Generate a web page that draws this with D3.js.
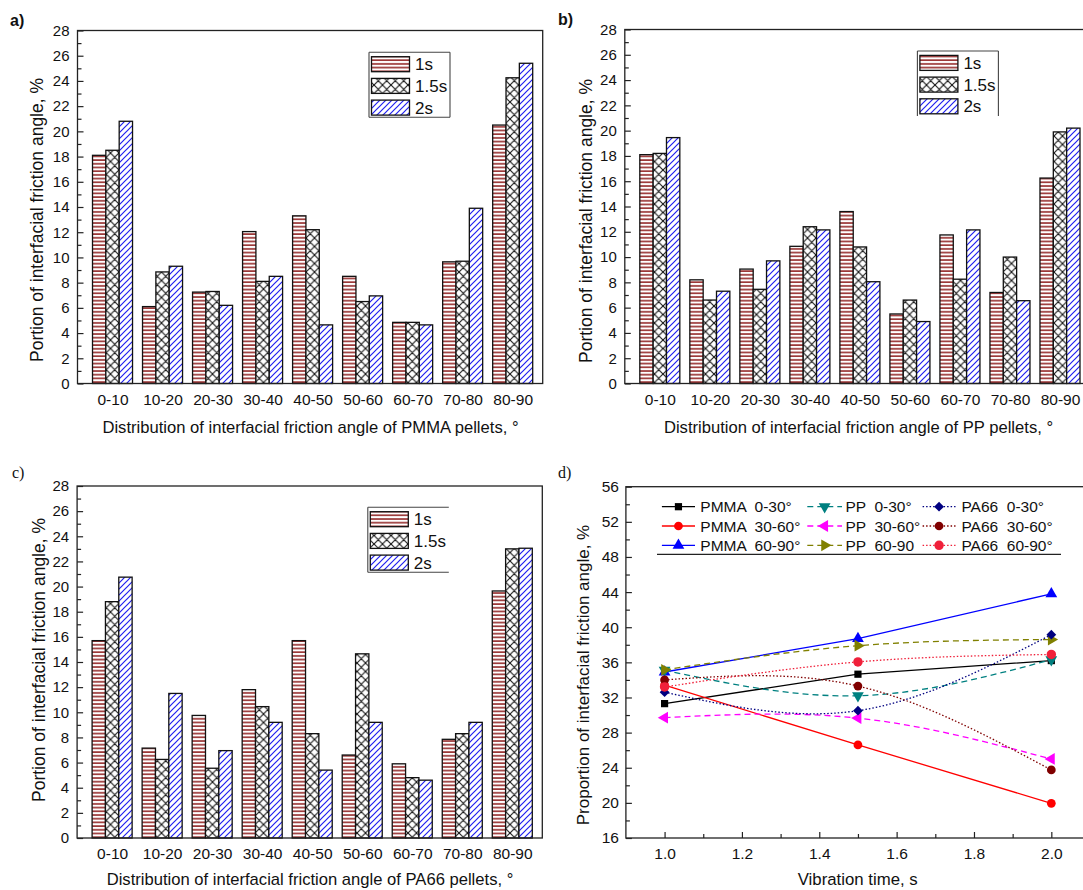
<!DOCTYPE html>
<html><head><meta charset="utf-8">
<script src="https://cdn.jsdelivr.net/npm/d3@7"></script>
<style>
body{margin:0;background:#fff}
text{font-family:"Liberation Sans",Arial,sans-serif;fill:#111}
</style>
</head><body>
<svg id="chart" width="1083" height="890"></svg>
<script>
// ---------------- data ----------------
const categories = ["0-10","10-20","20-30","30-40","40-50","50-60","60-70","70-80","80-90"];
const seriesNames = ["1s","1.5s","2s"];
const pmma1s  = [18.1, 6.1, 7.25, 12.05, 13.3, 8.5, 4.85, 9.65, 20.5];
const pmma15s = [18.5, 8.85, 7.3, 8.1, 12.2, 6.5, 4.85, 9.7, 24.25];
const pmma2s  = [20.8, 9.3, 6.2, 8.5, 4.65, 6.95, 4.65, 13.9, 25.4];
const pp1s  = [18.1, 8.2, 9.05, 10.85, 13.6, 5.5, 11.75, 7.2, 16.25];
const pp15s = [18.2, 6.6, 7.45, 12.4, 10.8, 6.6, 8.25, 10.0, 19.9];
const pp2s  = [19.45, 7.3, 9.7, 12.15, 8.05, 4.9, 12.15, 6.55, 20.2];
const pa661s  = [15.7, 7.15, 9.75, 11.8, 15.7, 6.6, 5.9, 7.85, 19.65];
const pa6615s = [18.8, 6.25, 5.55, 10.45, 8.3, 14.65, 4.8, 8.3, 23.0];
const pa662s  = [20.75, 11.5, 6.95, 9.2, 5.4, 9.2, 4.6, 9.2, 23.05];
const barYTicks = [0,2,4,6,8,10,12,14,16,18,20,22,24,26,28];

const times = [1.0, 1.5, 2.0];
const pmma0_30  = [31.3, 34.65, 36.2];
const pmma30_60 = [33.4, 26.6, 19.95];
const pmma60_90 = [34.9, 38.7, 43.8];
const pp0_30  = [35.1, 32.2, 36.3];
const pp30_60 = [29.7, 29.65, 25.0];
const pp60_90 = [35.15, 37.9, 38.6];
const pa660_30  = [32.6, 30.5, 39.15];
const pa6630_60 = [34.0, 33.3, 23.75];
const pa6660_90 = [33.2, 36.05, 36.9];
const lineSeriesNames = ["PMMA  0-30°","PMMA  30-60°","PMMA  60-90°",
                         "PP  0-30°","PP  30-60°","PP  60-90",
                         "PA66  0-30°","PA66  30-60°","PA66  60-90°"];
const lineYTicks = [16,20,24,28,32,36,40,44,48,52,56];
const lineXTicks = [1.0,1.2,1.4,1.6,1.8,2.0];

// ---------------- setup ----------------
const svg = d3.select("#chart");
const defs = svg.append("defs");

// patterns
const pH = defs.append("pattern").attr("id","pat1").attr("patternUnits","userSpaceOnUse")
  .attr("width",6).attr("height",3.7);
pH.append("rect").attr("width",6).attr("height",3.7).attr("fill","#fff");
pH.append("line").attr("x1",0).attr("x2",6).attr("y1",1).attr("y2",1)
  .attr("stroke","#8e1c1c").attr("stroke-width",1.5);

const pX = defs.append("pattern").attr("id","pat2").attr("patternUnits","userSpaceOnUse")
  .attr("width",8.5).attr("height",8.5);
pX.append("rect").attr("width",8.5).attr("height",8.5).attr("fill","#fff");
pX.append("path").attr("d","M0,0L8.5,8.5M8.5,0L0,8.5M-1,7.5L1,9.5M7.5,-1L9.5,1M-1,1L1,-1M7.5,9.5L9.5,7.5")
  .attr("stroke","#111").attr("stroke-width",1.1);

const pD = defs.append("pattern").attr("id","pat3").attr("patternUnits","userSpaceOnUse")
  .attr("width",6).attr("height",6);
pD.append("rect").attr("width",6).attr("height",6).attr("fill","#fff");
pD.append("path").attr("d","M0,6L6,0M-1,1L1,-1M5,7L7,5")
  .attr("stroke","#2020f0").attr("stroke-width",1.2);

const fills = ["url(#pat1)","url(#pat2)","url(#pat3)"];

function barPanel(cfg){
  const g = svg.append("g");
  const x = d3.scaleLinear().domain([0.3, 9.6]).range([cfg.left, cfg.right]);
  const y = d3.scaleLinear().domain([0, 28]).range([cfg.bottom, cfg.top]);
  const bw = x(0.8/3) - x(0);
  cfg.series.forEach((vals, j) => {
    g.append("g").selectAll("rect").data(vals).join("rect")
      .attr("x", (d,i) => x(i+1) + (j-1.5)*bw)
      .attr("width", bw)
      .attr("y", d => y(d))
      .attr("height", d => y(0) - y(d))
      .attr("fill", fills[j])
      .attr("stroke", "#111").attr("stroke-width", 1.3);
  });
  // frame
  g.append("rect").attr("x",cfg.left).attr("y",cfg.top)
    .attr("width",cfg.right-cfg.left).attr("height",cfg.bottom-cfg.top)
    .attr("fill","none").attr("stroke","#222").attr("stroke-width",1.3);
  // y axis
  const ya = g.append("g").attr("transform",`translate(${cfg.left},0)`)
    .call(d3.axisLeft(y).tickValues(barYTicks).tickSize(-6).tickPadding(8));
  ya.select(".domain").remove();
  ya.selectAll("text").style("font-size","15px").attr("fill","#111");
  ya.selectAll("line").attr("stroke","#222").attr("stroke-width",1.2);
  const ym = g.append("g").attr("transform",`translate(${cfg.left},0)`)
    .call(d3.axisLeft(y).tickValues(d3.range(1,28,2)).tickSize(-4).tickFormat(""));
  ym.select(".domain").remove();
  ym.selectAll("line").attr("stroke","#222").attr("stroke-width",1.2);
  // x axis labels
  const xa = g.append("g").attr("transform",`translate(0,${cfg.bottom})`)
    .call(d3.axisBottom(x).tickValues(d3.range(1,10)).tickFormat(i => categories[i-1]).tickSize(0).tickPadding(10));
  xa.select(".domain").remove();
  xa.selectAll("text").style("font-size","15.5px").attr("fill","#111");
  // titles
  g.append("text").attr("x",cfg.xTitleC).attr("y",cfg.xTitleY)
    .attr("text-anchor","middle").style("font-size","16.6px").text(cfg.xTitle);
  g.append("text").attr("transform",`translate(${cfg.yTitleX},${cfg.yTitleC}) rotate(-90)`)
    .attr("text-anchor","middle").style("font-size","17.5px").text("Portion of interfacial friction angle, %");
  // panel label
  g.append("text").attr("x",cfg.labX).attr("y",cfg.labY).text(cfg.label)
    .style("font-size","16px").style("font-weight",cfg.labBold?"bold":"normal")
    .style("font-family",cfg.labSerif?"'Liberation Serif',serif":null);
  // legend
  const lx = cfg.legX, ly = cfg.legY, lw = 81, lh = 65;
  const sides = cfg.legSides;
  const bl = g.append("g").attr("stroke","#444").attr("stroke-width",1.1);
  if (sides.includes("t")) bl.append("line").attr("x1",lx).attr("x2",lx+lw).attr("y1",ly).attr("y2",ly);
  if (sides.includes("b")) bl.append("line").attr("x1",lx).attr("x2",lx+lw).attr("y1",ly+lh).attr("y2",ly+lh);
  if (sides.includes("l")) bl.append("line").attr("x1",lx).attr("x2",lx).attr("y1",ly).attr("y2",ly+lh);
  if (sides.includes("r")) bl.append("line").attr("x1",lx+lw).attr("x2",lx+lw).attr("y1",ly).attr("y2",ly+lh);
  seriesNames.forEach((nm, j) => {
    g.append("rect").attr("x",lx+2.5).attr("y",ly+4.4+j*21.7).attr("width",38).attr("height",15)
      .attr("fill",fills[j]).attr("stroke","#111").attr("stroke-width",1.3);
    g.append("text").attr("x",lx+46).attr("y",ly+4.4+j*21.7+13.5).style("font-size","17px").text(nm);
  });
}

barPanel({left:77.5,right:542.7,top:30.5,bottom:383.5,series:[pmma1s,pmma15s,pmma2s],
  xTitle:"Distribution of interfacial friction angle of PMMA pellets, °", xTitleY:433, xTitleC:310.5,
  yTitleX:43,yTitleC:220,label:"a)",labX:10,labY:26,labBold:true,
  legX:369,legY:52.3,legSides:"tblr"});
barPanel({left:624.8,right:1090,top:29.5,bottom:383.5,series:[pp1s,pp15s,pp2s],
  xTitle:"Distribution of interfacial friction angle of PP pellets, °", xTitleY:433, xTitleC:858.5,
  yTitleX:591.5,yTitleC:221,label:"b)",labX:558,labY:25,labBold:true,
  legX:917.4,legY:51,legSides:"tlr"});
barPanel({left:77.1,right:542.3,top:486,bottom:838,series:[pa661s,pa6615s,pa662s],
  xTitle:"Distribution of interfacial friction angle of PA66 pellets, °", xTitleY:885, xTitleC:310,
  yTitleX:44.5,yTitleC:660,label:"c)",labX:12,labY:478,labSerif:true,
  legX:367.8,legY:507.3,legSides:"tlb"});

// ---------------- panel d ----------------
(function(){
  const L=625.9, R=1090, T=486.7, B=838;
  const g = svg.append("g");
  const x = d3.scaleLinear().domain([0.9, 2.1]).range([L, R]);
  const y = d3.scaleLinear().domain([16, 56]).range([B, T]);
  const lineSeries = [pmma0_30,pmma30_60,pmma60_90,pp0_30,pp30_60,pp60_90,pa660_30,pa6630_60,pa6660_90];
  const colors = ["#000000","#ff0000","#0000ff","#008080","#ff00ff","#808000","#000080","#800000","#f0203a"];
  const dashes = [null,null,null,"6,4","6,4","6,4","1.5,2","1.5,2","1.5,2"];
  const curves = [d3.curveLinear,d3.curveLinear,d3.curveLinear,d3.curveNatural,d3.curveNatural,d3.curveNatural,d3.curveNatural,d3.curveNatural,d3.curveNatural];
  const sym = [
    {t:d3.symbolSquare,s:52,r:0},{t:d3.symbolCircle,s:60,r:0},{t:d3.symbolTriangle,s:60,r:0},
    {t:d3.symbolTriangle,s:60,r:180},{t:d3.symbolTriangle,s:60,r:-90},{t:d3.symbolTriangle,s:60,r:90},
    {t:d3.symbolSquare,s:48,r:45},{t:d3.symbolCircle,s:60,r:0},{t:d3.symbolCircle,s:70,r:0}];

  lineSeries.forEach((vals,k) => {
    const pts = vals.map((v,i)=>[times[i],v]);
    g.append("path").datum(pts)
      .attr("d", d3.line().x(d=>x(d[0])).y(d=>y(d[1])).curve(curves[k]))
      .attr("fill","none").attr("stroke",colors[k]).attr("stroke-width",1.3)
      .attr("stroke-dasharray",dashes[k]);
  });
  lineSeries.forEach((vals,k) => {
    g.append("g").selectAll("path").data(vals).join("path")
      .attr("d", d3.symbol().type(sym[k].t).size(sym[k].s))
      .attr("transform",(d,i)=>`translate(${x(times[i])},${y(d)}) rotate(${sym[k].r})`)
      .attr("fill",colors[k]);
  });

  g.append("rect").attr("x",L).attr("y",T).attr("width",R-L).attr("height",B-T)
    .attr("fill","none").attr("stroke","#222").attr("stroke-width",1.3);

  const ya = g.append("g").attr("transform",`translate(${L},0)`)
    .call(d3.axisLeft(y).tickValues(lineYTicks).tickSize(-6).tickPadding(7));
  ya.select(".domain").remove();
  ya.selectAll("text").style("font-size","15.5px").attr("fill","#111");
  ya.selectAll("line").attr("stroke","#222").attr("stroke-width",1.2);
  const ym = g.append("g").attr("transform",`translate(${L},0)`)
    .call(d3.axisLeft(y).tickValues(d3.range(18,56,4)).tickSize(-4).tickFormat(""));
  ym.select(".domain").remove(); ym.selectAll("line").attr("stroke","#222").attr("stroke-width",1.2);

  const xa = g.append("g").attr("transform",`translate(0,${B})`)
    .call(d3.axisBottom(x).tickValues(lineXTicks).tickSize(-6).tickPadding(10).tickFormat(d3.format(".1f")));
  xa.select(".domain").remove();
  xa.selectAll("text").style("font-size","15.5px").attr("fill","#111");
  xa.selectAll("line").attr("stroke","#222").attr("stroke-width",1.2);
  const xm = g.append("g").attr("transform",`translate(0,${B})`)
    .call(d3.axisBottom(x).tickValues([1.1,1.3,1.5,1.7,1.9]).tickSize(-4).tickFormat(""));
  xm.select(".domain").remove(); xm.selectAll("line").attr("stroke","#222").attr("stroke-width",1.2);

  g.append("text").attr("x",857.7).attr("y",885).attr("text-anchor","middle")
    .style("font-size","16.8px").text("Vibration time, s");
  g.append("text").attr("transform",`translate(588.5,675) rotate(-90)`).attr("text-anchor","middle")
    .style("font-size","17px").text("Proportion of interfacial friction angle, %");
  g.append("text").attr("x",558).attr("y",478).style("font-size","16px")
    .style("font-family","'Liberation Serif',serif").text("d)");

  // legend
  const colLine = [[661.9,695],[807.3,842],[922.6,955.5]];
  const colText = [700.3,845.4,961.4];
  const rowY = [506.7,526,545.3];
  lineSeriesNames.forEach((nm,k) => {
    const c = Math.floor(k/3), r = k%3;
    const [x1,x2] = colLine[c], yy = rowY[r];
    g.append("line").attr("x1",x1).attr("x2",x2).attr("y1",yy).attr("y2",yy)
      .attr("stroke",colors[k]).attr("stroke-width",1.3).attr("stroke-dasharray",dashes[k]);
    g.append("path").attr("d",d3.symbol().type(sym[k].t).size(sym[k].s))
      .attr("transform",`translate(${(x1+x2)/2},${yy}) rotate(${sym[k].r})`).attr("fill",colors[k]);
    g.append("text").attr("x",colText[c]).attr("y",yy+5.5).style("font-size","15.5px")
      .style("white-space","pre").text(nm);
  });
  g.append("line").attr("x1",657).attr("x2",1061).attr("y1",554.3).attr("y2",554.3)
    .attr("stroke","#222").attr("stroke-width",1.3);
})();
</script>
</body></html>
